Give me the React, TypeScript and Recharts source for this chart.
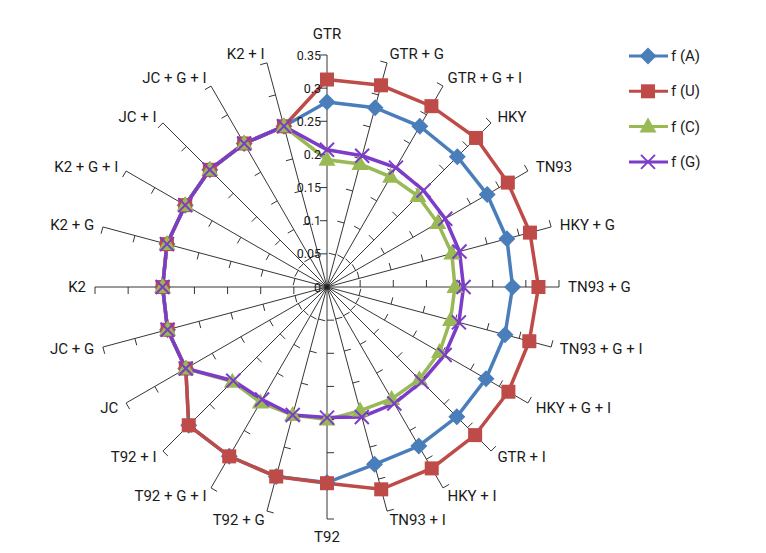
import React from "react"
import { RadarChart, Radar, PolarAngleAxis, PolarRadiusAxis, Legend } from "recharts"

// models on the spokes, clockwise from the top
const categories = [
  "GTR", "GTR + G", "GTR + G + I", "HKY", "TN93", "HKY + G", "TN93 + G", "TN93 + G + I",
  "HKY + G + I", "GTR + I", "HKY + I", "TN93 + I", "T92", "T92 + G", "T92 + G + I", "T92 + I",
  "JC", "JC + G", "K2", "K2 + G", "K2 + G + I", "JC + I", "JC + G + I", "K2 + I",
]

const fA = [
  0.279, 0.28, 0.28, 0.278, 0.279, 0.281, 0.28, 0.278, 0.277, 0.277, 0.277, 0.277,
  0.295, 0.296, 0.295, 0.295, 0.246, 0.249, 0.248, 0.25, 0.247, 0.25, 0.25, 0.251,
]
const fU = [
  0.313, 0.315, 0.315, 0.318, 0.315, 0.317, 0.319, 0.316, 0.316, 0.316, 0.316, 0.316,
  0.296, 0.296, 0.295, 0.295, 0.246, 0.249, 0.248, 0.25, 0.247, 0.25, 0.25, 0.251,
]
const fC = [
  0.192, 0.192, 0.192, 0.194, 0.193, 0.195, 0.193, 0.193, 0.196, 0.197, 0.195, 0.193,
  0.2, 0.2, 0.201, 0.202, 0.246, 0.249, 0.248, 0.25, 0.247, 0.25, 0.25, 0.251,
]
const fG = [
  0.207, 0.205, 0.208, 0.206, 0.206, 0.207, 0.206, 0.206, 0.205, 0.202, 0.203, 0.203,
  0.197, 0.2, 0.196, 0.2, 0.246, 0.249, 0.248, 0.25, 0.247, 0.25, 0.25, 0.251,
]

const radiusTicks = [0, 0.05, 0.1, 0.15, 0.2, 0.25, 0.3, 0.35]

const data = categories.map((name, i) => ({ name, A: fA[i], U: fU[i], C: fC[i], G: fG[i] }))

const CX = 319
const CY = 279
const R = 232
const MAX = 0.35
const FONT = "Roboto, 'Liberation Sans', sans-serif"
const TEXT = "#1a1a1a"
const AXIS = "#1f1f1f"

const BLUE = "#4a7ebb"
const RED = "#be4b48"
const GREEN = "#98b954"
const PURPLE = "#7d3cc8"

type Shape = "diamond" | "square" | "triangle" | "cross"

function Marker({ x, y, shape, color }: { x: number; y: number; shape: Shape; color: string }) {
  if (shape === "diamond") {
    const s = 8.5
    return <polygon points={`${x},${y - s} ${x + s},${y} ${x},${y + s} ${x - s},${y}`} fill={color} />
  }
  if (shape === "square") {
    return <rect x={x - 7} y={y - 7} width={14} height={14} fill={color} />
  }
  if (shape === "triangle") {
    return <polygon points={`${x},${y - 9} ${x + 8.5},${y + 6} ${x - 8.5},${y + 6}`} fill={color} />
  }
  return (
    <g stroke={color} strokeWidth={2}>
      <line x1={x - 7} y1={y - 7} x2={x + 7} y2={y + 7} />
      <line x1={x - 7} y1={y + 7} x2={x + 7} y2={y - 7} />
    </g>
  )
}

const dotFor = (shape: Shape, color: string) => (props: any) => (
  <Marker key={`${shape}-${props.index}`} x={props.cx} y={props.cy} shape={shape} color={color} />
)

// spoke + tick marks + category label
function SpokeTick(props: any) {
  const { payload } = props
  const a = (payload.coordinate * Math.PI) / 180
  const dx = Math.cos(a)
  const dy = -Math.sin(a)
  const ex = CX + R * dx
  const ey = CY + R * dy
  const tx = dy * 7
  const ty = -dx * 7
  const sinT = dx
  const cosT = -dy
  let lx = ex + 9 * sinT
  let ly = ey - 9 * cosT
  let anchor: "start" | "end" | "middle" = sinT > 0 ? "start" : "end"
  if (Math.abs(sinT) < 0.05) {
    anchor = "middle"
    lx = ex
    ly = cosT > 0 ? ey - 21 : ey + 18
  }
  return (
    <g>
      <line x1={CX} y1={CY} x2={ex} y2={ey} stroke={AXIS} strokeWidth={0.9} />
      {radiusTicks.slice(1).map((v) => {
        const r = (v / MAX) * R
        const px = CX + r * dx
        const py = CY + r * dy
        return <line key={v} x1={px} y1={py} x2={px + tx} y2={py + ty} stroke={AXIS} strokeWidth={0.9} />
      })}
      <text x={lx} y={ly} textAnchor={anchor} dominantBaseline="central" fontSize={15} fontFamily={FONT} fill={TEXT}>
        {payload.value}
      </text>
    </g>
  )
}

function RadiusTick(props: any) {
  const { x, y, payload } = props
  return (
    <text x={x - 6} y={y} textAnchor="end" dominantBaseline="central" fontSize={12.5} fontFamily={FONT} fill={TEXT}>
      {String(payload.value)}
    </text>
  )
}

const legendItems: { label: string; shape: Shape; color: string }[] = [
  { label: "f (A)", shape: "diamond", color: BLUE },
  { label: "f (U)", shape: "square", color: RED },
  { label: "f (C)", shape: "triangle", color: GREEN },
  { label: "f (G)", shape: "cross", color: PURPLE },
]

function LegendBox() {
  return (
    <svg width={100} height={150}>
      {legendItems.map((it, i) => {
        const y = 10 + i * 35.3
        return (
          <g key={it.label}>
            <line x1={1} y1={y} x2={40} y2={y} stroke={it.color} strokeWidth={3} />
            <Marker x={20} y={y} shape={it.shape} color={it.color} />
            <text x={43} y={y} dominantBaseline="central" fontSize={15} fontFamily={FONT} fill={TEXT}>
              {it.label}
            </text>
          </g>
        )
      })}
    </svg>
  )
}

export default function App() {
  return (
    <div style={{ position: "relative", width: 750, height: 537 }}>
      <RadarChart
        width={750}
        height={537}
        data={data}
        cx={CX}
        cy={CY}
        outerRadius={R}
        margin={{ top: 0, right: 0, bottom: 0, left: 0 }}
      >
        <PolarAngleAxis dataKey="name" axisLine={false} tickLine={false} tick={<SpokeTick />} />
        <PolarRadiusAxis
          angle={90}
          domain={[0, MAX]}
          ticks={radiusTicks}
          tickCount={8}
          axisLine={false}
          tick={<RadiusTick />}
        />
        <Radar dataKey="A" name="f (A)" stroke={BLUE} strokeWidth={3.5} fill="none" fillOpacity={0} dot={dotFor("diamond", BLUE)} isAnimationActive={false} />
        <Radar dataKey="U" name="f (U)" stroke={RED} strokeWidth={3.5} fill="none" fillOpacity={0} dot={dotFor("square", RED)} isAnimationActive={false} />
        <Radar dataKey="C" name="f (C)" stroke={GREEN} strokeWidth={3.5} fill="none" fillOpacity={0} dot={dotFor("triangle", GREEN)} isAnimationActive={false} />
        <Radar dataKey="G" name="f (G)" stroke={PURPLE} strokeWidth={3.5} fill="none" fillOpacity={0} dot={dotFor("cross", PURPLE)} isAnimationActive={false} />
        <Legend
          content={() => <LegendBox />}
          wrapperStyle={{ position: "absolute", left: 620, top: 38, width: 100, height: 150 }}
        />
      </RadarChart>
    </div>
  )
}
